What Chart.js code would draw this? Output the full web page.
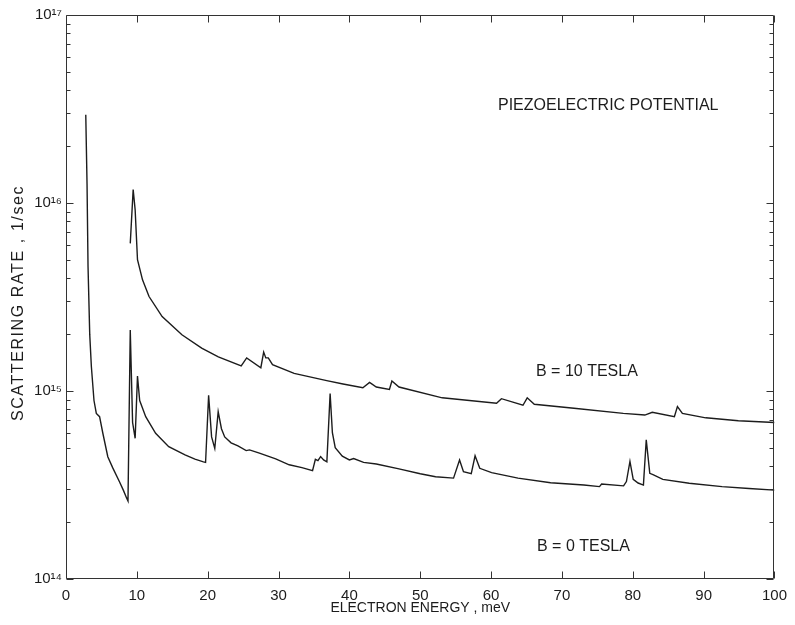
<!DOCTYPE html>
<html>
<head>
<meta charset="utf-8">
<script src="https://cdn.jsdelivr.net/npm/chart.js@4.4.0/dist/chart.umd.min.js"></script>
<style>
    html, body { margin: 0; padding: 0; background: #fff; }
    canvas { display: block; }
</style>
</head>
<body>
<canvas id="myChart" width="795" height="625"></canvas>
<script>
// B = 0 TESLA curve (energy in meV, rate in 1/sec)
const energyB0 = [2.79, 2.97, 3.11, 3.35, 3.58, 3.95, 4.28, 4.74, 5.2, 5.9, 6.6, 7.53, 8.09, 8.55, 8.75,
    9.07, 9.4, 9.76, 10.09, 10.4, 11.25, 12.65, 14.5, 16.8, 18.2, 19.4, 19.7,
    20.13, 20.55, 21.0, 21.48, 21.94, 22.4, 23.3, 24.27, 25.43, 25.9, 27.3, 29.6, 31.5, 33.3, 34.8,
    35.2, 35.56, 35.94, 36.36, 36.82, 37.28, 37.6, 38.0, 39.0, 40.0, 40.6, 42.0, 43.8, 47.0, 50.0,
    52.16, 54.7, 55.55, 56.1, 57.2, 57.74, 58.4, 60.07, 63.8, 68.4, 73.1, 75.3, 75.6, 78.7, 79.1,
    79.6, 80.06, 80.75, 81.5, 81.9, 82.4, 82.85, 84.24, 87.96, 92.6, 96.4, 100];
const rateB0 = [2.95e16, 1.26e16, 4.6e15, 2.0e15, 1.35e15, 8.9e14, 7.6e14, 7.3e14, 5.96e14, 4.47e14, 3.9e14, 3.3e14, 2.97e14, 2.7e14, 2.6e14,
    2.11e15, 6.8e14, 5.6e14, 1.2e15, 8.9e14, 7.3e14, 5.96e14, 5.06e14, 4.57e14, 4.34e14, 4.2e14, 4.17e14,
    9.5e14, 5.7e14, 4.95e14, 7.76e14, 6.3e14, 5.7e14, 5.3e14, 5.1e14, 4.82e14, 4.86e14, 4.67e14, 4.35e14, 4.05e14, 3.91e14, 3.77e14,
    4.33e14, 4.26e14, 4.48e14, 4.3e14, 4.2e14, 9.7e14, 6.0e14, 5.0e14, 4.5e14, 4.3e14, 4.37e14, 4.17e14, 4.09e14, 3.85e14, 3.63e14,
    3.5e14, 3.44e14, 4.3e14, 3.72e14, 3.63e14, 4.52e14, 3.88e14, 3.68e14, 3.44e14, 3.25e14, 3.16e14, 3.1e14, 3.2e14, 3.13e14, 3.3e14,
    4.22e14, 3.39e14, 3.24e14, 3.16e14, 5.5e14, 3.65e14, 3.59e14, 3.39e14, 3.23e14, 3.1e14, 3.03e14, 2.97e14];

// B = 10 TESLA curve
const energyB10 = [9.07, 9.48, 9.76, 10.09, 10.8, 11.72, 13.57, 16.36, 19.15, 21.5, 24.73, 25.5, 27.5, 27.9,
    28.2, 28.55, 29.15, 32.2, 36.8, 39.1, 41.9, 42.85, 43.8, 45.65, 46.0, 47.0, 53.1, 60.77, 61.46,
    64.5, 65.1, 66.1, 71.7, 78.66, 81.7, 82.75, 85.87, 86.3, 87.0, 90.3, 94.9, 100];
const rateB10 = [6.1e15, 1.18e16, 9.2e15, 5.0e15, 3.9e15, 3.18e15, 2.49e15, 1.99e15, 1.69e15, 1.52e15, 1.36e15, 1.5e15, 1.33e15, 1.61e15,
    1.5e15, 1.5e15, 1.38e15, 1.24e15, 1.135e15, 1.09e15, 1.04e15, 1.11e15, 1.05e15, 1.02e15, 1.13e15, 1.05e15, 9.2e14, 8.6e14, 9.1e14,
    8.4e14, 9.2e14, 8.5e14, 8.1e14, 7.6e14, 7.45e14, 7.7e14, 7.3e14, 8.26e14, 7.6e14, 7.2e14, 6.95e14, 6.8e14];

const xTickValues = [0, 10, 20, 30, 40, 50, 60, 70, 80, 90, 100];
const yDecades = [14, 15, 16, 17];

const FONT = '"Liberation Sans", Arial, Helvetica, sans-serif';
const INK = '#1c1c1c';
const SUP = '⁰¹²³⁴⁵⁶⁷⁸⁹';

function toPoints(xs, ys) {
    return xs.map((x, i) => ({ x: x, y: ys[i] }));
}

function supLabel(exp) {
    return '10' + String(exp).split('').map(d => SUP[Number(d)]).join('');
}

// box around the plot with inward ticks on every side
const frameTicks = {
    id: 'frameTicks',
    afterDraw(chart) {
        const { ctx, chartArea: a, scales } = chart;
        const l = Math.round(a.left) + 0.5, r = Math.round(a.right) - 0.5;
        const t = Math.round(a.top) + 0.5, b = Math.round(a.bottom) - 0.5;
        ctx.save();
        ctx.strokeStyle = '#333';
        ctx.lineWidth = 1;
        ctx.beginPath();
        ctx.rect(l, t, r - l, b - t);
        xTickValues.forEach(v => {
            const px = Math.round(scales.x.getPixelForValue(v)) + 0.5;
            ctx.moveTo(px, b); ctx.lineTo(px, b - 7);
            ctx.moveTo(px, t); ctx.lineTo(px, t + 7);
        });
        for (let d = 14; d <= 16; d++) {
            for (let m = 1; m <= 9; m++) {
                const py = Math.round(scales.y.getPixelForValue(m * Math.pow(10, d))) + 0.5;
                const len = m === 1 ? 7 : 4;
                ctx.moveTo(l, py); ctx.lineTo(l + len, py);
                ctx.moveTo(r, py); ctx.lineTo(r - len, py);
            }
        }
        ctx.stroke();
        ctx.restore();
    }
};

// text labels inside the plot, plus the y axis title
const notes = {
    id: 'notes',
    afterDraw(chart) {
        const ctx = chart.ctx;
        ctx.save();
        ctx.fillStyle = INK;
        ctx.font = '16px ' + FONT;
        ctx.textBaseline = 'middle';
        ctx.textAlign = 'left';
        ctx.fillText('PIEZOELECTRIC POTENTIAL', 498, 106);
        ctx.fillText('B = 10 TESLA', 536, 372);
        ctx.fillText('B = 0 TESLA', 537, 547);

        ctx.translate(19, 303);
        ctx.rotate(-Math.PI / 2);
        ctx.font = '16px ' + FONT;
        ctx.letterSpacing = '1.6px';
        ctx.textAlign = 'center';
        ctx.fillText('SCATTERING RATE , 1/sec', 0, 0);
        ctx.restore();
    }
};

const ctx = document.getElementById('myChart').getContext('2d');
new Chart(ctx, {
    type: 'scatter',
    data: {
        datasets: [
            {
                label: 'B = 0 TESLA',
                data: toPoints(energyB0, rateB0),
                showLine: true,
                borderColor: INK,
                borderWidth: 1.4,
                pointRadius: 0,
                tension: 0
            },
            {
                label: 'B = 10 TESLA',
                data: toPoints(energyB10, rateB10),
                showLine: true,
                borderColor: INK,
                borderWidth: 1.4,
                pointRadius: 0,
                tension: 0
            }
        ]
    },
    options: {
        responsive: false,
        animation: false,
        devicePixelRatio: 1,
        layout: { padding: { left: 0, top: 15, right: 12, bottom: 0 } },
        plugins: {
            legend: { display: false },
            tooltip: { enabled: false }
        },
        scales: {
            x: {
                type: 'linear',
                min: 0,
                max: 100,
                grid: { display: false, drawTicks: false },
                border: { display: false },
                afterBuildTicks: (scale) => {
                    scale.ticks = xTickValues.map(v => ({ value: v }));
                },
                ticks: {
                    color: INK,
                    font: { family: FONT, size: 15 },
                    padding: 8,
                    maxRotation: 0,
                    callback: (v) => String(v)
                },
                title: {
                    display: true,
                    text: 'ELECTRON ENERGY , meV',
                    color: INK,
                    font: { family: FONT, size: 14 },
                    padding: { bottom: 8 }
                },
                afterFit: (scale) => { scale.height = 46; }
            },
            y: {
                type: 'logarithmic',
                min: 1e14,
                max: 1e17,
                grid: { display: false, drawTicks: false },
                border: { display: false },
                afterBuildTicks: (scale) => {
                    scale.ticks = yDecades.map(e => ({ value: Math.pow(10, e), major: true }));
                },
                ticks: {
                    color: INK,
                    autoSkip: false,
                    font: { family: FONT, size: 15 },
                    padding: 4,
                    callback: (v) => supLabel(Math.round(Math.log10(v)))
                },
                title: { display: false },
                afterFit: (scale) => { scale.width = 66; }
            }
        }
    },
    plugins: [frameTicks, notes]
});
</script>
</body>
</html>
